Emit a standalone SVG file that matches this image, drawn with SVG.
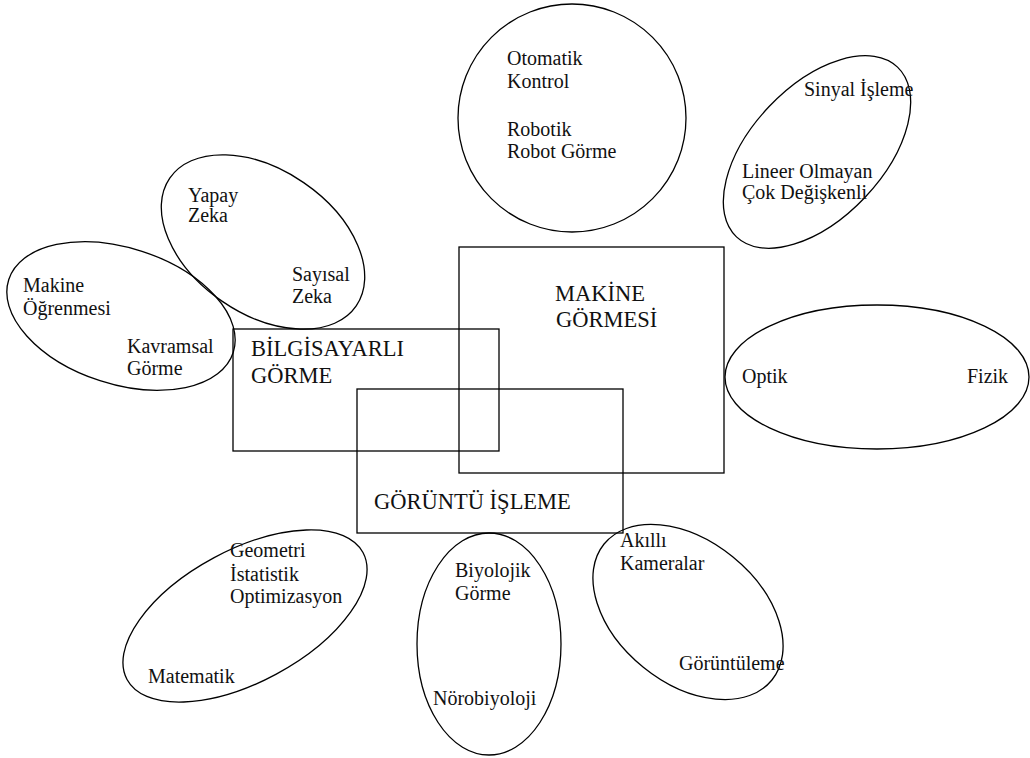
<svg xmlns="http://www.w3.org/2000/svg" width="1030" height="758" viewBox="0 0 1030 758">
  <style>
    .shape { fill: none; stroke: #000; stroke-width: 1.3; }
    text { font-family: 'Liberation Serif', 'Times New Roman', 'DejaVu Serif', serif; fill: #111; }
    .sm { font-size: 20px; }
    .lg { font-size: 22.5px; }
  </style>
  <rect width="1030" height="758" fill="#fff"/>

  <g font-family="Liberation Serif, Times New Roman, DejaVu Serif, serif">
  <!-- central overlapping fields -->
  <g id="bilgisayarli-gorme">
    <rect class="shape" x="233" y="329" width="266" height="122"/>
    <text class="lg" x="251" y="356" font-family="Liberation Serif">BİLGİSAYARLI</text>
    <text class="lg" x="251" y="383" font-family="Liberation Serif">GÖRME</text>
  </g>
  <g id="makine-gormesi">
    <rect class="shape" x="459" y="247" width="265" height="226"/>
    <text class="lg" x="555" y="301">MAKİNE</text>
    <text class="lg" x="556" y="327">GÖRMESİ</text>
  </g>
  <g id="goruntu-isleme">
    <rect class="shape" x="357" y="389" width="266" height="144"/>
    <text class="lg" x="374" y="509">GÖRÜNTÜ İŞLEME</text>
  </g>

  <!-- surrounding disciplines -->
  <g id="otomatik-kontrol">
    <ellipse class="shape" cx="572" cy="118" rx="114" ry="114"/>
    <text class="sm" x="507" y="65">Otomatik</text>
    <text class="sm" x="507" y="88">Kontrol</text>
    <text class="sm" x="507" y="136">Robotik</text>
    <text class="sm" x="507" y="158">Robot Görme</text>
  </g>
  <g id="sinyal-isleme">
    <ellipse class="shape" cx="817" cy="152" rx="117" ry="66" transform="rotate(-46.5 817 152)"/>
    <text class="sm" x="804" y="96">Sinyal İşleme</text>
    <text class="sm" x="742" y="178">Lineer Olmayan</text>
    <text class="sm" x="742" y="199">Çok Değişkenli</text>
  </g>
  <g id="yapay-zeka">
    <ellipse class="shape" cx="263" cy="242" rx="113" ry="72" transform="rotate(34.4 263 242)"/>
    <text class="sm" x="188" y="202">Yapay</text>
    <text class="sm" x="188" y="222">Zeka</text>
    <text class="sm" x="292" y="281">Sayısal</text>
    <text class="sm" x="292" y="303">Zeka</text>
  </g>
  <g id="makine-ogrenmesi">
    <ellipse class="shape" cx="121" cy="316" rx="118" ry="68" transform="rotate(18 121 316)"/>
    <text class="sm" x="23" y="292">Makine</text>
    <text class="sm" x="23" y="315">Öğrenmesi</text>
    <text class="sm" x="127" y="353">Kavramsal</text>
    <text class="sm" x="127" y="375">Görme</text>
  </g>
  <g id="fizik">
    <ellipse class="shape" cx="877" cy="377" rx="152" ry="72"/>
    <text class="sm" x="742" y="383">Optik</text>
    <text class="sm" x="967" y="383">Fizik</text>
  </g>
  <g id="matematik">
    <ellipse class="shape" cx="245" cy="616" rx="134" ry="66" transform="rotate(-28.3 245 616)"/>
    <text class="sm" x="230" y="557">Geometri</text>
    <text class="sm" x="230" y="581">İstatistik</text>
    <text class="sm" x="230" y="603">Optimizasyon</text>
    <text class="sm" x="148" y="683">Matematik</text>
  </g>
  <g id="norobiyoloji">
    <ellipse class="shape" cx="489" cy="644" rx="72" ry="111"/>
    <text class="sm" x="455" y="577">Biyolojik</text>
    <text class="sm" x="455" y="600">Görme</text>
    <text class="sm" x="433" y="705">Nörobiyoloji</text>
  </g>
  <g id="goruntuleme">
    <ellipse class="shape" cx="688" cy="612" rx="108" ry="71" transform="rotate(39 688 612)"/>
    <text class="sm" x="620" y="547">Akıllı</text>
    <text class="sm" x="620" y="570">Kameralar</text>
    <text class="sm" x="679" y="670">Görüntüleme</text>
  </g>
  </g>

  <g id="connectors"/>
</svg>
